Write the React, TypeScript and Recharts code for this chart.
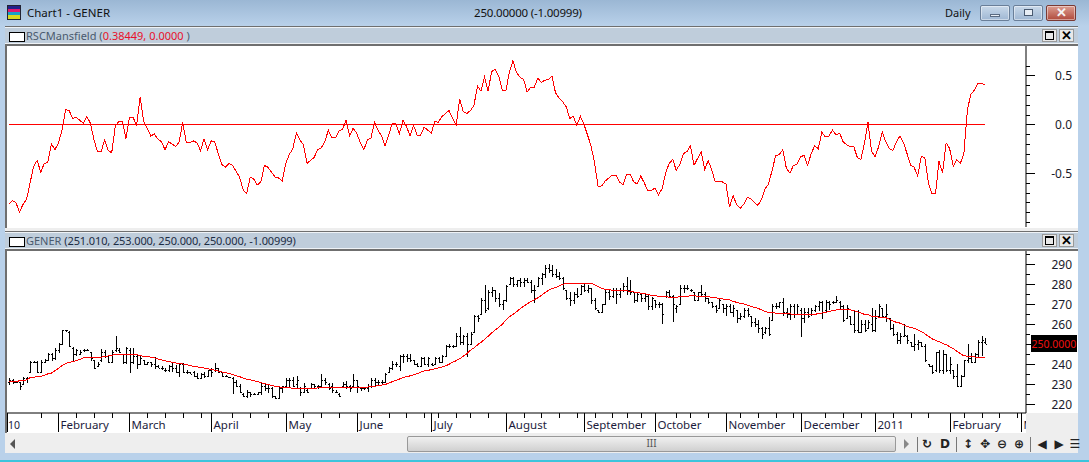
import { ComposedChart, Line, Bar, XAxis, YAxis, ReferenceLine } from 'recharts';

const FONT = '"Noto Sans", sans-serif';

// Relative strength, one value per session
const rsc = [
  -0.82,-0.78,-0.80,-0.90,-0.82,-0.77,-0.60,-0.43,-0.37,-0.49,
  -0.40,-0.39,-0.20,-0.26,-0.19,-0.06,0.15,0.14,0.06,0.07,
  0.04,0.01,0.08,0.01,-0.16,-0.28,-0.28,-0.16,-0.27,-0.29,
  -0.02,0.03,0.03,-0.15,0.07,0.07,-0.01,0.28,0.03,-0.04,
  -0.12,-0.10,-0.15,-0.18,-0.26,-0.18,-0.20,-0.23,-0.18,0.02,
  -0.19,-0.19,-0.17,-0.19,-0.27,-0.15,-0.26,-0.17,-0.18,-0.30,
  -0.41,-0.44,-0.40,-0.42,-0.48,-0.54,-0.67,-0.71,-0.54,-0.56,
  -0.62,-0.59,-0.42,-0.44,-0.49,-0.54,-0.55,-0.58,-0.40,-0.31,
  -0.25,-0.09,-0.16,-0.21,-0.40,-0.37,-0.34,-0.26,-0.24,-0.18,
  -0.06,-0.14,-0.14,-0.07,-0.05,0.04,-0.12,-0.04,-0.09,-0.19,
  -0.26,-0.16,-0.14,0.02,-0.06,-0.12,-0.22,-0.11,0.01,0.01,
  -0.10,0.04,-0.02,-0.12,-0.01,-0.11,-0.11,-0.03,-0.06,-0.09,
  0.03,0.02,0.08,0.11,0.14,0.06,-0.01,0.26,0.13,0.11,
  0.14,0.19,0.39,0.34,0.48,0.34,0.54,0.56,0.49,0.35,
  0.34,0.54,0.65,0.53,0.48,0.46,0.33,0.38,0.38,0.47,
  0.43,0.45,0.46,0.49,0.32,0.27,0.23,0.18,0.06,0.08,
  -0.01,0.08,0.00,-0.11,-0.22,-0.40,-0.64,-0.63,-0.58,-0.55,
  -0.52,-0.52,-0.59,-0.62,-0.51,-0.51,-0.59,-0.61,-0.53,-0.60,
  -0.68,-0.68,-0.65,-0.72,-0.66,-0.50,-0.40,-0.36,-0.47,-0.41,
  -0.30,-0.28,-0.22,-0.42,-0.35,-0.28,-0.46,-0.37,-0.47,-0.59,
  -0.59,-0.59,-0.61,-0.85,-0.73,-0.82,-0.86,-0.82,-0.75,-0.76,
  -0.80,-0.83,-0.77,-0.66,-0.61,-0.47,-0.32,-0.31,-0.26,-0.45,
  -0.50,-0.42,-0.41,-0.33,-0.32,-0.42,-0.30,-0.22,-0.25,-0.08,
  -0.13,-0.12,-0.06,-0.11,-0.09,-0.18,-0.21,-0.23,-0.23,-0.34,
  -0.36,-0.19,0.02,-0.28,-0.33,-0.23,-0.08,-0.18,-0.25,-0.27,
  -0.18,-0.12,-0.19,-0.30,-0.42,-0.44,-0.53,-0.33,-0.34,-0.60,
  -0.71,-0.71,-0.38,-0.50,-0.19,-0.25,-0.43,-0.36,-0.40,-0.30,
  0.15,0.31,0.35,0.42,0.42,0.40,
];

const high = [
  233,232.5,231.8,231.3,233.8,233.8,241.8,241.8,241.8,242.1,
  242.5,245.5,245.5,248,250.5,257.2,257.2,256.6,248.5,247.5,
  247.2,247.5,247.8,246.3,242.1,241.3,247.7,247.2,243.8,247.2,
  254.2,248,245.2,248.8,248,248,244.7,244.7,242.1,241.3,
  241.3,243.8,239.7,239.2,238,239.7,240.5,239.7,240.5,240.5,
  237.2,236.3,236.8,235.5,235.5,236.3,237.2,238,240.5,238,
  236.3,234.6,233.8,233.8,232.2,230.2,225.5,227.1,226.3,225.8,
  226.3,230.5,230.2,229.6,228.8,224.1,228.8,229.2,233,233,
  233.8,234.1,228.8,230.8,227.5,230.5,230.2,229.6,235,233,
  230.8,230.8,227.1,225.5,231.3,231.8,229.6,235,232.2,228.8,
  228.8,230.2,233,233,232.2,232.2,235.8,238.8,241.8,241.3,
  244.7,245.2,245.2,245.2,242.1,240.5,243.8,243.8,243.8,240.5,
  243.8,243.8,244.7,249.7,250,249.7,255.5,258.8,254.7,255.5,
  256.3,264.7,264.7,273,279.7,277.2,278.8,277.2,275.5,272.2,
  279.7,283.8,283.8,282.2,283,283,283,282.2,279.7,283.8,
  285.5,289.7,290,289.7,287.5,286.3,283.8,277.2,276.3,276.3,
  278,279.7,280.5,279.7,278,273,267.2,270.2,277.2,277.2,
  278,278,278,280.5,283.8,282.2,276.3,275.5,275.5,275.5,
  274.7,273.8,272.2,271.3,270.5,276.8,277.2,274.7,269.7,279.7,
  279.7,279.7,277.5,276.3,276.3,279.7,276.3,273,271.3,269.7,
  273,270.2,270.2,270.2,269.7,267.2,265.5,268,268,264.2,
  263,262.2,258.8,258.8,263.8,270.2,270.5,271.3,273,268,
  270.2,270.2,270.2,268,268,268,268,269.7,271.8,271.8,
  272.2,271.8,271.8,274.2,271.8,269.7,269.7,264.2,267.2,267.2,
  262.2,262.2,262.2,268,267.2,270.2,268,270.2,263,260.2,
  256.3,255.5,260.2,254.7,251.3,255.2,252.2,251.3,250.2,240,
  239.7,246.3,247.2,247.2,245.2,243.5,237.2,240,234.6,242.1,
  250.2,245.5,245.8,252.2,254.2,253,
];

const low = [
  229.6,230.2,230.5,227.1,229.6,230.8,235.5,240.5,235.5,235.5,
  240.8,241.8,241.8,242.1,245.5,250.2,256.3,248.5,241.3,244.2,
  244.7,246.3,246.8,241.8,237.5,238.5,241.3,243,240.8,240.5,
  246.3,245.8,240,240,235.5,240.2,237.5,239.7,239.7,239.7,
  238.5,237.5,238,237.2,236.3,236.3,236.3,235.5,233.5,235.5,
  235.2,235.2,233.8,232.5,232.5,233,233.5,233.8,236.3,235.5,
  233.8,233.5,233.2,225.1,228.5,225.5,223.8,223,223.8,224.6,
  224.6,224.6,226.8,225.5,223,222.8,223,225.5,228.8,228.8,
  228.8,227.5,224.3,225.5,225.8,228,228,227.5,228,229.6,
  227.1,225.5,225.8,223.8,228,227.5,226.3,228.8,225.5,226.8,
  227.1,226.3,228,228.8,229.6,229.6,230.5,235.5,237.2,238.8,
  236.8,240.5,241.3,241.3,239.7,238.8,238.8,239.7,238.8,239.2,
  239.7,240.5,241.3,243.5,248,248.3,248.5,249.7,249.7,243.5,
  249.7,255.5,261.3,264.7,265.5,267.2,273.8,271.3,268.8,267.2,
  271.3,279.7,278.8,278.8,278.5,278.8,280.5,275.8,270.5,278.8,
  279.7,283,285.5,283.8,283,282.2,277.2,272.2,269.2,270.2,
  273,274.7,276.3,275.5,270.2,267.2,265.5,265.5,270.2,272.2,
  273,270.2,273,276.3,274.7,274.7,270.5,271.3,271.3,271.3,
  267.2,267.2,268,268,260.2,273,273,261.3,265.5,269.7,
  275.5,277.2,276.3,271.8,271.8,273.8,271.3,270.2,268,265.5,
  268,265.5,264.2,265.5,263.5,260.5,262.2,263,263.5,258.8,
  258.5,255.5,252.5,255.2,254.2,261.8,267.5,268,264.2,263,
  262.2,263,264.7,253.8,260.5,263,264.2,266.3,266.8,262.5,
  266.3,267.2,270.2,270.5,267.2,261.3,263,259.7,255.5,255.5,
  255.5,256.3,258,256.3,256.3,263,263,261.3,257.2,254.2,
  250.2,250.2,253.8,250.2,248.8,246.8,247.2,248.5,241.3,238.5,
  235.2,236.3,235.5,235.2,236.3,235.2,232.5,228.5,228.5,234.1,
  240.5,240.5,240.5,243,244.2,250,
];

const open = [
  231,232,231,231,230,233,236,241,241,236,
  241,242,245,243,247,250,257,256,248,245,
  245,247,247,246,242,239,242,246,244,241,
  247,247,245,241,247,241,244,240,242,240,
  241,240,239,238,237,237,239,238,236,240,
  236,236,236,234,233,235,234,237,237,238,
  236,234,233.5,233,231,229,225,224,226,225,
  225,226,229,228,228,224,223,228,229,232,
  232,230,228,226,227,228,230,229,229,232,
  230,229,226,225,229,230,229,229,232,228,
  228,228,229,232,231,231,231,236,238,240,
  239,244,244,243,242,240,239,243,240,240,
  240,243,241,244,249,249,249,254,251,254,
  250,256,264,265,272,268,276,277,273,270,
  272,280,283,280,282,281,282,281,277,279,
  283,285,288,287,285,284,283,277,273,272,
  275,275,279,277,278,272,267,266,270,276,
  274,277,275,277,279,277,276,272,275,273,
  274,269,272,270,270,274,276,274,268,270,
  278,278,277,276,272,276,275,273,271,269,
  268,270,268,269,266,267,263,264,267,264,
  261,260,258,256,258,262,269,269,271,266,
  265,269,265,267,263,266,265,267,269,271,
  267,271,271,271,271,269,263,264,260,257,
  256,260,258,260,257,264,268,264,263,258,
  255,252,254,254,251,249,250,251,249,240,
  239,237,246,237,245,237,237,234,229,234,
  242,243,241,245,251,251.01,
];

const close = [
  232,231,231,229,233,233,241,241,236,241,
  242,245,243,247,250,257,257,249,245,247,
  246,247,247,243,238,240,246,244,241,246,
  248,246,241,248,241,244,240,243,240,241,
  240,239,238,238,237,239,238,236,240,236,
  236,235,234,233,235,234,237,236,238,236,
  234,234,233.5,231,229,226,224,226,225,225,
  226,229,228,228,224,223,228,229,232,232,
  229,232,226,229,226,230,229,229,232,231,
  228,227,226,224,230,229,228,232,229,228,
  228,229,232,231,231,231,235,238,240,240,
  244,244,243,242,240,239,243,240,243,239.5,
  243,241,244,249,249,249,254,251,254,250,
  255,264,263,272,267,276,277,273,270,272,
  279,283,280,282,281,282,281,277,277,283,
  285,288,287,285,284,283,278,273,272,275,
  274,279,277,278,272,268,266,270,276,274,
  277,275,277,279,277,276,272,275,273,274,
  269,273,270,270,265,276,274,270,269,278,
  278,278,277,272,276,275,273,271,269,267,
  272,268,269,266,268,263,264,267,265,261,
  260,258,255,258,255,269,269,271,266,265,
  269,265,269,263,266,264,267,269,271,266,
  271,270,271,272,269,262,268,260,257,256,
  260,257,261,257,263,269,264,265,258,255,
  252,254,254.5,252,249,250,251,249,242,239,
  236,246,237,245,237,240,234,229,234,242,
  243,241,245,251,252,250,
];

// Moving average drawn over the price bars
const avg = [
  231.3,231.4,231.5,231.7,231.9,232.2,233.3,233.5,233.8,234,
  234.5,235.2,235.6,236.8,238,239.4,240.4,240.9,241.3,241.8,
  242.4,243.3,243.4,243.4,243.4,243.4,243.6,243.8,244.2,244.5,
  244.8,245,244.9,245,245,245,245,244.3,244,243.8,
  243.6,243.2,242.7,242.2,241.8,241.4,241,240.7,240.4,240.2,
  239.8,239.4,239,238.8,238.4,238.1,237.8,237.5,237,236.6,
  236.2,235.9,235.4,234.9,234.3,233.8,233.2,232.6,232.2,231.8,
  231.4,230.8,230.4,229.9,229.4,229,228.7,228.5,228.3,228.2,
  228.1,228,228,228,228,228,228,228.2,228.3,228.3,
  228.3,228.3,228.4,228.4,228.4,228.4,228.5,228.5,228.5,228.5,
  228.5,228.6,228.8,229,229.3,229.6,229.9,230.5,231.3,232,
  232.6,233.3,233.8,234.2,234.7,235.3,236,236.7,237,237.3,
  237.7,238.2,238.6,239.2,240,241,241.8,242.8,244,245.3,
  247,248.2,249.7,251,252.5,254,255.7,257.2,258.5,260,
  262.2,263.8,265,266.2,267.8,269,270.2,271.3,272.3,273.2,
  274.5,275.8,277,277.8,278.4,279.2,280,280.5,280.5,280.5,
  280.5,280.5,280.5,280.5,280.5,279.8,278.9,278,277.5,277.2,
  277.1,277,276.9,276.8,276.8,276.4,276.2,275.8,275.6,275.3,
  275,274.4,274.2,274.1,274,273.8,273.6,273.5,273.5,273.8,
  274,274.1,274.2,274.2,274.1,274,273.9,273.8,273.5,273.3,
  273,272.7,272.5,272.2,271.5,271,270.4,270.2,269.6,269,
  268.5,268,267.2,266.5,265.8,265.8,265.6,265.5,265.4,265.3,
  265.2,265,265,264.9,264.8,264.8,264.9,265,265.3,265.6,
  266,266.3,266.8,267.2,267.5,267.5,267.5,267.2,266.8,266.2,
  265.6,265,264.8,264,263.8,263.6,263.5,263.3,262.5,261.6,
  261,260.6,259.8,259,258.4,258,257.2,256.4,255.3,254,
  252.8,252,251.3,250.5,249.8,248.8,247.8,246.6,245.3,244.3,
  244,244,243.7,243.3,243.2,243.2,
];

// Empty sessions kept to the right of the last bar
const blankSlots = 11;

const monthTicks = [0, 14, 34, 57, 78, 98, 119, 140, 162, 182, 202, 223, 244, 265, 285];
const monthLabels = ['10', 'February', 'March', 'April', 'May', 'June', 'July', 'August', 'September', 'October', 'November', 'December', '2011', 'February', 'M'];
const weekTicks = [9, 19, 24, 29, 39, 44, 49, 54, 63, 68, 73, 83, 88, 93, 102, 107, 112, 117, 121, 126, 130, 135, 145, 150, 155, 160, 165, 170, 174, 178, 188, 192, 197, 206, 211, 216, 221, 230, 235, 240, 249, 254, 259, 269, 274, 279, 284];

const rscTicks = [-1, -0.9, -0.8, -0.7, -0.6, -0.5, -0.4, -0.3, -0.2, -0.1, 0, 0.1, 0.2, 0.3, 0.4, 0.5, 0.6];
const rscLabels = ['-0.5', '0.0', '0.5'];
const priceTicks = [220, 225, 230, 235, 240, 245, 250, 255, 260, 265, 270, 275, 280, 285, 290, 295];
const priceLabels = ['220', '230', '240', '250', '260', '270', '280', '290'];

const rows = Array.from({ length: rsc.length + blankSlots }, (_, i) => ({
  i,
  rsc: i < rsc.length ? rsc[i] : null,
  avg: i < avg.length ? avg[i] : null,
  range: i < high.length ? [low[i], high[i]] : null,
  open: open[i],
  close: close[i],
  high: high[i],
  low: low[i],
}));

function OhlcBar(props: any) {
  const { x, y, width, height, payload } = props;
  if (payload.range == null || height == null) return null;
  const cx = Math.round(x + width / 2) + 0.5;
  const h = Math.abs(height);
  const span = payload.high - payload.low || 1;
  const yOpen = Math.round(y + ((payload.high - payload.open) / span) * h) + 0.5;
  const yClose = Math.round(y + ((payload.high - payload.close) / span) * h) + 0.5;
  return (
    <g stroke="#000" strokeWidth={1} shapeRendering="crispEdges">
      <line x1={cx} x2={cx} y1={y} y2={y + h} />
      <line x1={cx - 1.5} x2={cx} y1={yOpen} y2={yOpen} />
      <line x1={cx} x2={cx + 1.5} y1={yClose} y2={yClose} />
    </g>
  );
}

function TimeTick(props: any) {
  const { x, y, payload } = props;
  const at = monthTicks.indexOf(payload.value);
  const px = Math.round(x) + 0.5;
  if (at < 0) {
    return <line x1={px} x2={px} y1={y} y2={y + 5} stroke="#000" shapeRendering="crispEdges" />;
  }
  const lx = at === 0 ? 0.5 : px;
  const last = at === monthTicks.length - 1;
  return (
    <g>
      <line x1={lx} x2={lx} y1={y} y2={y + 19} stroke="#000" shapeRendering="crispEdges" />
      {last && (
        <clipPath id="clip-last-month">
          <rect x={lx} y={y} width={1019 - lx} height={20} />
        </clipPath>
      )}
      <text x={at === 0 ? lx + 0.5 : lx + 2} y={y + 16} fontFamily={FONT} fontSize={at === 0 ? 10.5 : 11.5} fill="#1c1c3c" clipPath={last ? 'url(#clip-last-month)' : undefined}>
        {monthLabels[at]}
      </text>
    </g>
  );
}

function ValueTick(props: any) {
  const { x, y, payload, labels, fmt } = props;
  const v = payload.value;
  const text = fmt(v);
  const major = labels.includes(text);
  const py = Math.round(y) + 0.5;
  return (
    <g>
      <line x1={x} x2={x + (major ? 9 : 4)} y1={py} y2={py} stroke="#000" shapeRendering="crispEdges" />
      {text === '250' ? (
        <g>
          <rect x={x + 5} y={py - 9.5} width={46} height={17} fill="#000" />
          <text x={x + 5.5} y={py + 3} fontFamily={FONT} fontSize={10.5} fill="#f01010">250.0000</text>
        </g>
      ) : major ? (
        <text x={x + 46} y={py + 4} textAnchor="end" fontFamily={FONT} fontSize={12} fill="#1a1a2a">{text}</text>
      ) : null}
    </g>
  );
}

function PaneHeader({ top, children }: { top: number; children: any }) {
  return (
    <div style={{ position: 'absolute', left: 5, top, width: 1073, height: 20, background: '#bfcddb', borderTop: '1px solid #6f6f6f', borderBottom: '2px solid #6f6f6f', boxSizing: 'border-box', boxShadow: 'inset 0 1px 0 #eef2f6, inset 0 -1px 0 #eef2f6' }}>
      <div style={{ position: 'absolute', left: 4, top: 5, width: 14, height: 8, border: '1px solid #000', background: '#fff' }} />
      <div style={{ position: 'absolute', left: 21, top: 0, lineHeight: '17px', fontFamily: FONT, fontSize: 11, whiteSpace: 'nowrap' }}>{children}</div>
      <div style={{ position: 'absolute', left: 1037, top: 2, width: 15, height: 13, background: '#e8e8e8', border: '1px solid #999', boxSizing: 'border-box' }}>
        <div style={{ position: 'absolute', left: 2, top: 1, width: 9, height: 9, border: '1px solid #000', borderTopWidth: 2, boxSizing: 'border-box' }} />
      </div>
      <div style={{ position: 'absolute', left: 1054, top: 2, width: 15, height: 13, background: '#e8e8e8', border: '1px solid #999', boxSizing: 'border-box', fontFamily: FONT, fontSize: 13, lineHeight: '11px', textAlign: 'center', fontWeight: 700 }}>✕</div>
    </div>
  );
}

function WinButton({ left, bg, border, children }: any) {
  return (
    <div style={{ position: 'absolute', left, top: 5, width: 30, height: 16, boxSizing: 'border-box', borderRadius: 2, border: '1px solid ' + border, background: bg, boxShadow: 'inset 0 0 0 1px rgba(255,255,255,.45)' }}>{children}</div>
  );
}

function ToolGlyph({ x, children, size = 12 }: any) {
  return (
    <div style={{ position: 'absolute', left: x - 10, top: 436, width: 20, height: 16, lineHeight: '16px', textAlign: 'center', fontFamily: '"DejaVu Sans", sans-serif', fontSize: size, fontWeight: 700, color: '#222' }}>{children}</div>
  );
}

export default function App() {
  const grey = '#4a5a6e';
  const red = '#e8102a';
  return (
    <div style={{ position: 'absolute', left: 0, top: 0, width: 1089, height: 462, overflow: 'hidden', background: '#b9d1ea' }}>
      {/* window title bar */}
      <div style={{ position: 'absolute', left: 0, top: 0, width: 1089, height: 26, background: 'linear-gradient(#9bb7d4, #b9d1ea)' }} />
      <div style={{ position: 'absolute', left: 7, top: 5, width: 14, height: 15, border: '1px solid #223', boxSizing: 'border-box', background: 'linear-gradient(#22228a 0 20%, #e01870 20% 50%, #18a0c8 50% 70%, #d8d820 70%)' }} />
      <div style={{ position: 'absolute', left: 27, top: 4, fontFamily: FONT, fontSize: 11.5, lineHeight: '18px', color: '#111' }}>Chart1 - GENER</div>
      <div style={{ position: 'absolute', left: 474, top: 4, fontFamily: FONT, fontSize: 11.5, letterSpacing: -0.2, lineHeight: '18px', color: '#111' }}>250.00000 (-1.00999)</div>
      <div style={{ position: 'absolute', left: 945, top: 4, fontFamily: FONT, fontSize: 11, lineHeight: '18px', color: '#111' }}>Daily</div>
      <WinButton left={980} bg="linear-gradient(#c9d9ea, #9fb7d3)" border="#6a7f99">
        <div style={{ position: 'absolute', left: 9, top: 8, width: 10, height: 3, background: '#e8eef5', border: '1px solid #5a6a80', boxSizing: 'border-box' }} />
      </WinButton>
      <WinButton left={1013} bg="linear-gradient(#c9d9ea, #9fb7d3)" border="#6a7f99">
        <div style={{ position: 'absolute', left: 10, top: 3, width: 9, height: 7, background: '#e8eef5', border: '1px solid #4a5a70', boxSizing: 'border-box' }} />
      </WinButton>
      <WinButton left={1046} bg="linear-gradient(#dc9d90, #b04a3c)" border="#7a3a34">
        <div style={{ position: 'absolute', left: 0, top: -2, width: 28, textAlign: 'center', fontFamily: FONT, fontSize: 13, lineHeight: '16px', fontWeight: 700, color: '#f4f4f4' }}>✕</div>
      </WinButton>

      {/* pane backgrounds */}
      <div style={{ position: 'absolute', left: 5, top: 45, width: 1073, height: 183, background: '#fff', borderLeft: '2px solid #6f6f6f', boxSizing: 'border-box' }} />
      <div style={{ position: 'absolute', left: 5, top: 228, width: 1073, height: 3, background: '#eeeeee' }} />
      <div style={{ position: 'absolute', left: 5, top: 250, width: 1073, height: 183, background: '#fff', borderLeft: '2px solid #6f6f6f', boxSizing: 'border-box' }} />
      <div style={{ position: 'absolute', left: 1026, top: 413, width: 52, height: 23, background: '#eeeeee' }} />

      <PaneHeader top={26}>
        <span style={{ color: grey }}>RSCMansfield (</span>
        <span style={{ color: red }}>0.38449, 0.0000</span>
        <span style={{ color: grey }}> )</span>
      </PaneHeader>
      <PaneHeader top={231}>
        <span style={{ color: grey }}>GENER </span>
        <span style={{ color: '#1c2c44', letterSpacing: -0.12 }}>(251.010, 253.000, 250.000, 250.000, -1.00999)</span>
      </PaneHeader>

      {/* upper pane */}
      <div style={{ position: 'absolute', left: 7, top: 46 }}>
        <ComposedChart width={1070} height={181} data={rows} barCategoryGap={0} margin={{ top: 0, right: 0, bottom: 0, left: 0 }}>
          <XAxis dataKey="i" type="category" scale="band" hide />
          <YAxis
            orientation="right"
            width={51}
            type="number"
            domain={[-1.051, 0.801]}
            ticks={rscTicks}
            interval={0}
            tickSize={0}
            tickMargin={0}
            tickLine={false}
            axisLine={{ stroke: '#000' }}
            tick={<ValueTick labels={rscLabels} fmt={(v: number) => v.toFixed(1)} />}
          />
          <ReferenceLine stroke="#ff0000" strokeWidth={1} shapeRendering="crispEdges" segment={[{ x: 0, y: 0 }, { x: rsc.length - 1, y: 0 }]} />
          <Line dataKey="rsc" stroke="#ff0000" strokeWidth={1} dot={false} activeDot={false} isAnimationActive={false} shapeRendering="crispEdges" />
        </ComposedChart>
      </div>

      {/* lower pane */}
      <div style={{ position: 'absolute', left: 7, top: 251 }}>
        <ComposedChart width={1070} height={182} data={rows} barCategoryGap={0} margin={{ top: 0, right: 0, bottom: 0, left: 0 }}>
          <XAxis
            dataKey="i"
            type="category"
            scale="band"
            height={20}
            ticks={[...monthTicks, ...weekTicks]}
            interval={0}
            tickSize={0}
            tickMargin={0}
            tickLine={false}
            axisLine={{ stroke: '#000' }}
            tick={<TimeTick />}
          />
          <YAxis
            orientation="right"
            width={51}
            type="number"
            domain={[215.65, 296.65]}
            ticks={priceTicks}
            interval={0}
            tickSize={0}
            tickMargin={0}
            tickLine={false}
            axisLine={{ stroke: '#000' }}
            tick={<ValueTick labels={priceLabels} fmt={(v: number) => String(v)} />}
          />
          <Bar dataKey="range" shape={<OhlcBar />} isAnimationActive={false} />
          <Line dataKey="avg" stroke="#ff0000" strokeWidth={1} dot={false} activeDot={false} isAnimationActive={false} shapeRendering="crispEdges" />
        </ComposedChart>
      </div>

      {/* scrollbar and toolbar */}
      <div style={{ position: 'absolute', left: 5, top: 433, width: 1073, height: 3, background: '#eeeeee' }} />
      <div style={{ position: 'absolute', left: 5, top: 436, width: 1073, height: 17, background: '#eeeeee' }} />
      <div style={{ position: 'absolute', left: 10, top: 439, width: 0, height: 0, borderTop: '5px solid transparent', borderBottom: '5px solid transparent', borderRight: '5px solid #555' }} />
      <div style={{ position: 'absolute', left: 407, top: 436, width: 489, height: 16, boxSizing: 'border-box', border: '1px solid #999', borderRadius: 2, background: 'linear-gradient(#f0f0f0, #d0d0d0)', textAlign: 'center', fontFamily: FONT, fontSize: 10, lineHeight: '13px', color: '#555' }}>III</div>
      <div style={{ position: 'absolute', left: 904, top: 439, width: 0, height: 0, borderTop: '5px solid transparent', borderBottom: '5px solid transparent', borderLeft: '5px solid #888' }} />
      <div style={{ position: 'absolute', left: 917, top: 437, width: 1, height: 15, background: '#777' }} />
      <div style={{ position: 'absolute', left: 956, top: 437, width: 1, height: 15, background: '#777' }} />
      <div style={{ position: 'absolute', left: 1030, top: 437, width: 1, height: 15, background: '#777' }} />
      <ToolGlyph x={927}>↻</ToolGlyph>
      <ToolGlyph x={945}>D</ToolGlyph>
      <ToolGlyph x={968}>↕</ToolGlyph>
      <ToolGlyph x={985}>✥</ToolGlyph>
      <ToolGlyph x={1002}>⊖</ToolGlyph>
      <ToolGlyph x={1019}>⊕</ToolGlyph>
      <ToolGlyph x={1042}>◀</ToolGlyph>
      <ToolGlyph x={1059}>▶</ToolGlyph>
      <ToolGlyph x={1075}>☰</ToolGlyph>
      <div style={{ position: 'absolute', left: 0, top: 460, width: 1089, height: 2, background: '#3cc4dc' }} />
    </div>
  );
}
